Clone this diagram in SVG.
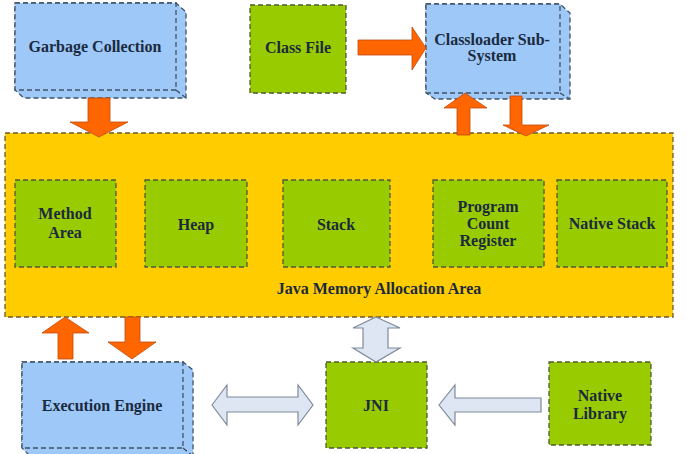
<svg xmlns="http://www.w3.org/2000/svg" width="687" height="454" viewBox="0 0 687 454">
<style>
.bg{fill:#ffffff}
.blue{fill:#9DC8F8;stroke:#3F5366;stroke-width:1.3;stroke-dasharray:5 3}
.green{fill:#99CC00;stroke:#4F5A3A;stroke-width:1.3;stroke-dasharray:5 3}
.yellow{fill:#FFCC00;stroke:#6B5A2A;stroke-width:1.3;stroke-dasharray:5 3}
.edge{fill:none;stroke:#3F5366;stroke-width:1.3;stroke-dasharray:5 3}
.orange{fill:#FF6600;stroke:#C04A10;stroke-width:0.8}
.light{fill:#DDE6F2;stroke:#7F8A99;stroke-width:1.2}
text{font-family:"Liberation Serif","Times New Roman",serif;font-weight:bold;font-size:16px;fill:#1B2A3F;text-anchor:middle}
</style>
<rect class="bg" x="0" y="0" width="687" height="454"/>
<g id="memory-area">
<rect class="yellow" x="5" y="133" width="668" height="184"/>
<text x="379" y="294">Java Memory Allocation Area</text>
</g>
<g id="garbage-collection">
<path class="blue" d="M15,3 H176 L186,12 V98 H24 L15,90 Z"/>
<rect class="blue" x="15" y="3" width="161" height="87"/>
<path class="edge" d="M176,90 L186,98"/>
<text x="95" y="52">Garbage Collection</text>
</g>
<g id="class-file">
<rect class="green" x="250" y="5" width="96" height="88"/>
<text x="298" y="53">Class File</text>
</g>
<g id="classloader">
<path class="blue" d="M426,4 H560 L570,13 V99 H435 L426,93 Z"/>
<rect class="blue" x="426" y="4" width="134" height="89"/>
<path class="edge" d="M560,93 L570,99"/>
<text x="492" y="45">Classloader Sub-</text>
<text x="492" y="61">System</text>
</g>
<g id="method-area">
<rect class="green" x="15" y="180" width="101" height="87"/>
<text x="65" y="219">Method</text>
<text x="65" y="238">Area</text>
</g>
<g id="heap">
<rect class="green" x="145" y="180" width="102" height="87"/>
<text x="196" y="230">Heap</text>
</g>
<g id="stack">
<rect class="green" x="283" y="180" width="107" height="87"/>
<text x="336" y="230">Stack</text>
</g>
<g id="program-count-register">
<rect class="green" x="433" y="180" width="111" height="87"/>
<text x="488" y="212">Program</text>
<text x="488" y="229">Count</text>
<text x="488" y="246">Register</text>
</g>
<g id="native-stack">
<rect class="green" x="557" y="180" width="110" height="87"/>
<text x="612" y="229">Native Stack</text>
</g>
<g id="execution-engine">
<path class="blue" d="M22,362 H183 L193,370 V456 H30 L22,448 Z"/>
<rect class="blue" x="22" y="362" width="161" height="86"/>
<path class="edge" d="M183,448 L193,456"/>
<text x="102" y="411">Execution Engine</text>
</g>
<g id="jni">
<rect class="green" x="326" y="362" width="101" height="86"/>
<text x="376" y="411">JNI</text>
</g>
<g id="native-library">
<rect class="green" x="549" y="362" width="102" height="83"/>
<text x="600" y="401">Native</text>
<text x="600" y="419">Library</text>
</g>
<g id="connectors">
<path class="orange" d="M88,98 H110 V122 H128 L99,137 L70,122 H88 Z"/>
<path class="orange" d="M358,40 H412 V27 L426,48 L412,70 V55 H358 Z"/>
<path class="orange" d="M457,135 V108 H444 L465,93 L487,108 H470 V135 Z"/>
<path class="orange" d="M510,96 H522 V125 H549 L526,136 L503,125 H510 Z"/>
<path class="orange" d="M58,359 V333 H42 L65,317 L89,333 H73 V359 Z"/>
<path class="orange" d="M125,317 H140 V342 H156 L132,359 L108,342 H125 Z"/>
<path class="light" d="M376,317 L400,328 H388 V348 H400 L376,362 L353,348 H363 V328 H353 Z"/>
<path class="light" d="M212,405 L227,385 V397 H298 V385 L313,405 L298,425 V412 H227 V425 Z"/>
<path class="light" d="M439,405 L455,385 V398 H541 V412 H455 V425 Z"/>
</g>
</svg>
